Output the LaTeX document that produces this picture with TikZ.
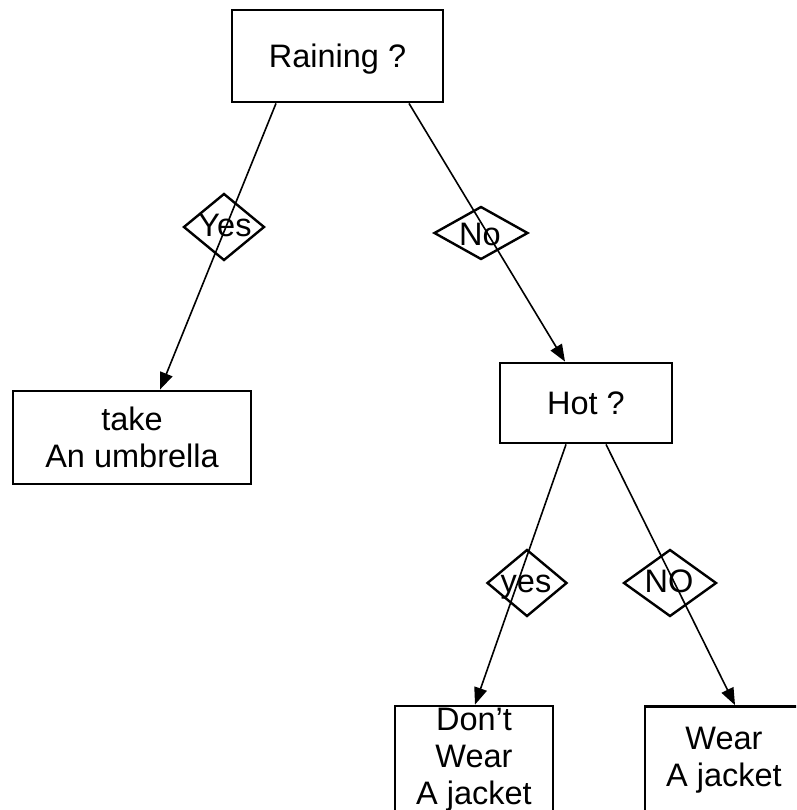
\documentclass[tikz,border=0pt]{standalone}
\usepackage{fontspec}
\setmainfont{Liberation Sans}
\usetikzlibrary{arrows.meta,shapes.geometric}

\tikzset{
  box/.style={draw, line width=2.8pt, inner sep=0pt, align=center,
              font=\fontsize{32.5}{37}\selectfont},
  choice/.style={draw, diamond, line width=2.4pt, inner sep=0pt},
  answer/.style={font=\fontsize{32.5}{37}\selectfont, text height=23pt, text depth=0pt, inner sep=0pt},
  link/.style={line width=1.6pt, -{Triangle[length=17pt,width=13pt]}},
}

\begin{document}
\begin{tikzpicture}[x=1pt, y=-1pt]
  \useasboundingbox (0,0) rectangle (796,810);
  \clip (0,0) rectangle (796,810);

  % decision and outcome boxes
  \node[box, minimum width=211pt, minimum height=92pt, text height=23pt, text depth=0pt]
       (rain) at (337.5,56) {Raining ?};
  \node[box, minimum width=238pt, minimum height=93pt] (take) at (132,437.5) {take\\An umbrella};
  \node[box, minimum width=172pt, minimum height=80pt] (hot) at (586,403) {Hot ?};
  \node[box, minimum width=158pt, minimum height=108pt] (dont) at (474,760) {Don’t\\Wear\\A jacket};
  \node[box, minimum width=158pt, minimum height=108pt] (wear) at (724,760.5) {Wear\\A jacket};

  % branches
  \draw[link] ([xshift=-61.5pt]rain.south) -- ([xshift=28pt]take.north);
  \draw[link] ([xshift=71.5pt]rain.south) -- ([xshift=-21pt]hot.north);
  \draw[link] ([xshift=-20pt]hot.south) -- ([xshift=1pt]dont.north);
  \draw[link] ([xshift=20pt]hot.south) -- ([xshift=11pt]wear.north);

  % branch labels
  \node[choice, minimum width=81pt, minimum height=67pt] (dyes) at (224,227) {};
  \node[answer] (tyes) at (225,225) {Yes};
  \node[choice, minimum width=94pt, minimum height=53pt] (dno) at (481,233) {};
  \node[answer] (tno) at (480,234) {No};
  \node[choice, minimum width=80pt, minimum height=67pt] (dyes2) at (527,583) {};
  \node[answer] (tyes2) at (526,580.5) {yes};
  \node[choice, minimum width=93pt, minimum height=67pt] (dno2) at (670,583) {};
  \node[answer] (tno2) at (669,580.5) {NO};
\end{tikzpicture}
\end{document}
